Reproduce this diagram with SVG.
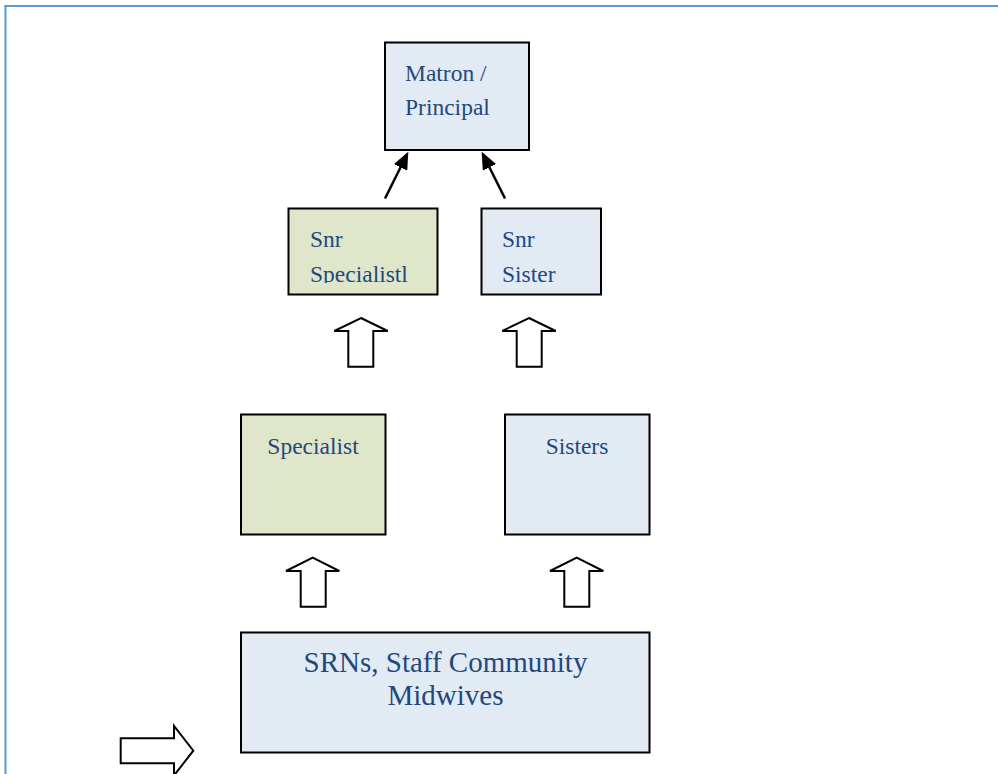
<svg xmlns="http://www.w3.org/2000/svg" width="998" height="774" viewBox="0 0 998 774">
  <style>
    .box{stroke:#000;stroke-width:2}
    .blue{fill:#e2eaf4}
    .green{fill:#dfe6c9}
    .t{font-family:"Liberation Serif","Times New Roman",serif;fill:#1f497d;font-size:23.5px}
    .big{font-size:29px}
    .blk{fill:#fff;stroke:#000;stroke-width:2;stroke-linejoin:miter}
    .ln{stroke:#000;stroke-width:2.5;fill:none}
  </style>
  <defs>
    <marker id="ah" markerWidth="7" markerHeight="6" refX="6" refY="3" orient="auto" markerUnits="strokeWidth">
      <path d="M0,0 L7,3 L0,6 Z" fill="#000"/>
    </marker>
    <clipPath id="c1"><rect x="289" y="209" width="148" height="74"/></clipPath>
    <clipPath id="c2"><rect x="482" y="209" width="118" height="74"/></clipPath>
  </defs>
  <rect width="998" height="774" fill="#fff"/>
  <g id="frame">
    <line x1="4.5" y1="6" x2="998" y2="6" stroke="#5b9bd5" stroke-width="2"/>
    <line x1="5.5" y1="5" x2="5.5" y2="774" stroke="#5b9bd5" stroke-width="2"/>
  </g>
  <g id="matron">
    <rect class="box blue" x="385" y="42.5" width="144" height="107.5"/>
    <text class="t" x="405" y="81">Matron /</text>
    <text class="t" x="405" y="115">Principal</text>
  </g>
  <g id="snr-specialist">
    <rect class="box green" x="288.5" y="208.5" width="149" height="86"/>
    <g clip-path="url(#c1)">
      <text class="t" x="310" y="247">Snr</text>
      <text class="t" x="310" y="281.5">Specialistl</text>
    </g>
  </g>
  <g id="snr-sister">
    <rect class="box blue" x="481.5" y="208.5" width="119.5" height="86"/>
    <g clip-path="url(#c2)">
      <text class="t" x="502" y="247">Snr</text>
      <text class="t" x="502" y="281.5">Sister</text>
    </g>
  </g>
  <g id="specialist">
    <rect class="box green" x="241" y="414.5" width="144.5" height="120"/>
    <text class="t" x="313" y="453.5" text-anchor="middle">Specialist</text>
  </g>
  <g id="sisters">
    <rect class="box blue" x="505" y="414.5" width="144.5" height="120"/>
    <text class="t" x="577" y="453.5" text-anchor="middle">Sisters</text>
  </g>
  <g id="srns">
    <rect class="box blue" x="241" y="632.5" width="408.5" height="120"/>
    <text class="t big" x="445.5" y="671.5" text-anchor="middle">SRNs, Staff Community</text>
    <text class="t big" x="445.5" y="704.5" text-anchor="middle">Midwives</text>
  </g>
  <g id="connectors">
    <line class="ln" x1="385" y1="198.5" x2="407.2" y2="154" marker-end="url(#ah)"/>
    <line class="ln" x1="505" y1="198.5" x2="482.8" y2="154" marker-end="url(#ah)"/>
    <polygon class="blk" points="361,318 387.7,331 373.3,331 373.3,366.7 348.3,366.7 348.3,331 334.3,331"/>
    <polygon class="blk" points="529,318 555.7,331 541.7,331 541.7,366.7 516.7,366.7 516.7,331 502.3,331"/>
    <polygon class="blk" points="312.7,557.7 339.3,571 325.7,571 325.7,606.7 300.7,606.7 300.7,571 286,571"/>
    <polygon class="blk" points="576.7,557.7 603.3,571 589.3,571 589.3,606.7 564.3,606.7 564.3,571 550,571"/>
    <polygon class="blk" points="120.7,738.3 174,738.3 174,726 193.3,750.7 174,775.5 174,763.3 120.7,763.3"/>
  </g>
</svg>
